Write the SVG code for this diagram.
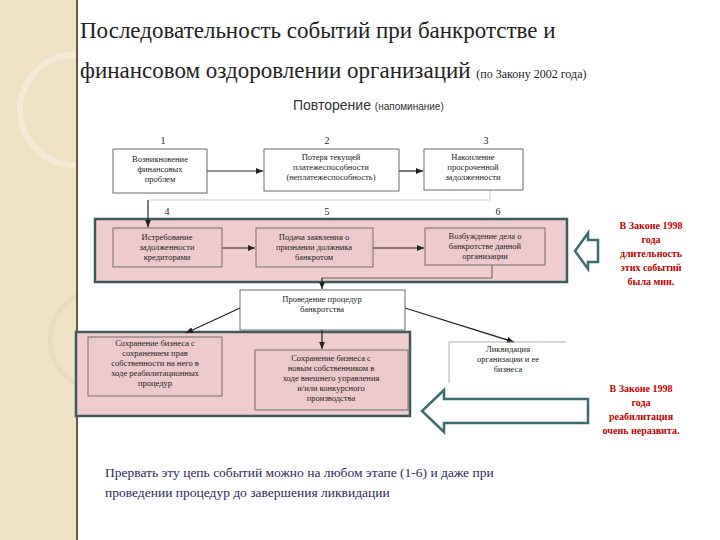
<svg xmlns="http://www.w3.org/2000/svg" width="720" height="540" viewBox="0 0 720 540">
<defs>
<marker id="ah" markerWidth="8" markerHeight="8" refX="7" refY="4" orient="auto" markerUnits="userSpaceOnUse"><path d="M0,1 L7,4 L0,7 z" fill="#222"/></marker>
<clipPath id="sc"><rect x="0" y="0" width="76" height="540"/></clipPath>
<style>
.bx{fill:#fff;stroke:#444;stroke-width:0.8}
.pb{fill:#eec9cc;stroke:#555;stroke-width:0.8}
.t{font-family:"Liberation Serif",serif;font-size:8.5px;fill:#222;text-anchor:middle}
.n{font-family:"Liberation Serif",serif;font-size:10px;fill:#222;text-anchor:middle}
.c{stroke:#222;stroke-width:1.2;fill:none}
.r{font-family:"Liberation Serif",serif;font-size:10px;font-weight:bold;fill:#c00000;text-anchor:middle}
.panel{fill:#f0cccf;stroke:#3d5a5e;stroke-width:2.5}
.blk{fill:#fff;stroke:#3d6b70;stroke-width:2.5}
.ti{font-family:"Liberation Serif","Times New Roman",serif;font-size:23px;fill:#222}
.ft{font-family:"Liberation Serif","Times New Roman",serif;font-size:13.5px;fill:#2a2a5a}
</style>
</defs>
<rect width="720" height="540" fill="#fff"/>
<g id="side">
<rect x="0" y="0" width="77" height="540" fill="#efe3c4"/>
<g clip-path="url(#sc)">
<circle cx="75" cy="110" r="55" fill="none" stroke="#f5ecd6" stroke-width="6"/>
<circle cx="100" cy="340" r="50" fill="none" stroke="#e8dcbc" stroke-width="5"/>
</g>
<line x1="77" y1="0" x2="77" y2="540" stroke="#6a5a40" stroke-width="2"/>
</g>
<g id="title">
<text class="ti" x="80" y="38">Последовательность событий при банкротстве и</text>
<text class="ti" x="80" y="78">финансовом оздоровлении организаций <tspan font-size="12">(по Закону 2002 года)</tspan></text>
</g>
<g id="sub" font-family="'Liberation Sans',sans-serif" fill="#333">
<text x="293" y="110" font-size="14">Повторение <tspan font-size="10">(напоминание)</tspan></text>
</g>
<g id="panels">
<rect class="panel" x="95" y="219" width="472" height="63"/>
<rect class="panel" x="76" y="332" width="334" height="84"/>
</g>
<g id="nums">
<text class="n" x="163" y="144">1</text><text class="n" x="327" y="144">2</text><text class="n" x="486" y="144">3</text>
<text class="n" x="167" y="215">4</text><text class="n" x="327" y="215">5</text><text class="n" x="498" y="215">6</text>
</g>
<g id="connectors">
<line class="c" x1="207" y1="171" x2="263" y2="171" marker-end="url(#ah)"/>
<line class="c" x1="399" y1="171" x2="423" y2="171" marker-end="url(#ah)"/>
<polyline fill="none" stroke="#bbb" stroke-width="0.8" points="490,190 490,200 150,200"/>
<line class="c" x1="148" y1="200" x2="148" y2="227" marker-end="url(#ah)"/>
<line class="c" x1="222" y1="248" x2="255" y2="248" marker-end="url(#ah)"/>
<line class="c" x1="373" y1="248" x2="424" y2="248" marker-end="url(#ah)"/>
<polyline fill="none" stroke="#444" stroke-width="0.8" points="492,265 492,278 322,278"/>
<line class="c" x1="322" y1="278" x2="322" y2="289" marker-end="url(#ah)"/>
<line class="c" x1="240" y1="308" x2="186" y2="333" marker-end="url(#ah)"/>
<line class="c" x1="322" y1="330" x2="322" y2="349" marker-end="url(#ah)"/>
<line class="c" x1="405" y1="308" x2="514" y2="342" marker-end="url(#ah)"/>
</g>
<g id="n1"><rect class="bx" x="113" y="149" width="94" height="44"/><text class="t" x="160" y="162">Возникновение</text><text class="t" x="160" y="172">финансовых</text><text class="t" x="160" y="182">проблем</text></g>
<g id="n2"><rect class="bx" x="264" y="149" width="135" height="42"/><text class="t" x="331" y="160">Потеря текущей</text><text class="t" x="331" y="170">платежеспособности</text><text class="t" x="331" y="180">(неплатежеспособность)</text></g>
<g id="n3"><rect class="bx" x="424" y="149" width="99" height="41"/><text class="t" x="473" y="160">Накопление</text><text class="t" x="473" y="170">просроченной</text><text class="t" x="473" y="180">задолженности</text></g>
<g id="n4"><rect class="pb" x="113" y="228" width="109" height="39"/><text class="t" x="167" y="240">Истребование</text><text class="t" x="167" y="250">задолженности</text><text class="t" x="167" y="260">кредиторами</text></g>
<g id="n5"><rect class="pb" x="256" y="228" width="117" height="39"/><text class="t" x="314" y="240">Подача заявления о</text><text class="t" x="314" y="250">признании должника</text><text class="t" x="314" y="260">банкротом</text></g>
<g id="n6"><rect class="pb" x="425" y="228" width="120" height="37"/><text class="t" x="485" y="239">Возбуждение дела о</text><text class="t" x="485" y="249">банкротстве данной</text><text class="t" x="485" y="259">организации</text></g>
<g id="n7"><rect class="bx" x="240" y="290" width="165" height="40"/><text class="t" x="322" y="302">Проведение процедур</text><text class="t" x="322" y="312">банкротства</text></g>
<g id="n8"><rect class="pb" x="88" y="337" width="134" height="59"/><text class="t" x="155" y="346">Сохранение бизнеса с</text><text class="t" x="155" y="356">сохранением прав</text><text class="t" x="155" y="366">собственности на него в</text><text class="t" x="155" y="376">ходе реабилитационных</text><text class="t" x="155" y="386">процедур</text></g>
<g id="n9"><rect class="pb" x="255" y="350" width="153" height="60"/><text class="t" x="331" y="361">Сохранение бизнеса с</text><text class="t" x="331" y="371">новым собственником в</text><text class="t" x="331" y="381">ходе внешнего управления</text><text class="t" x="331" y="391">и/или конкурсного</text><text class="t" x="331" y="401">производства</text></g>
<g id="n10"><polyline fill="none" stroke="#999" stroke-width="0.8" points="449,383 449,342 566,342"/><text class="t" x="508" y="352">Ликвидация</text><text class="t" x="508" y="362">организации и ее</text><text class="t" x="508" y="372">бизнеса</text></g>
<g id="arrows">
<path class="blk" d="M598,240 L588,240 L588,233 L575,251 L588,269 L588,262 L598,262 Z" stroke-width="2"/>
<path class="blk" d="M588,399 L444,399 L444,390 L422,411 L444,432 L444,423 L588,423 Z"/>
</g>
<g id="notes">
<text class="r" x="651" y="229">В Законе 1998</text><text class="r" x="651" y="243">года</text><text class="r" x="651" y="257">длительность</text><text class="r" x="651" y="271">этих событий</text><text class="r" x="651" y="285">была мин.</text>
<text class="r" x="641" y="392">В Законе 1998</text><text class="r" x="641" y="406">года</text><text class="r" x="641" y="420">реабилитация</text><text class="r" x="641" y="434">очень неразвита.</text>
</g>
<g id="foot">
<text class="ft" x="105" y="477">Прервать эту цепь событий можно на любом этапе (1-6) и даже при</text>
<text class="ft" x="105" y="497">проведении процедур до завершения ликвидации</text>
</g>
</svg>
